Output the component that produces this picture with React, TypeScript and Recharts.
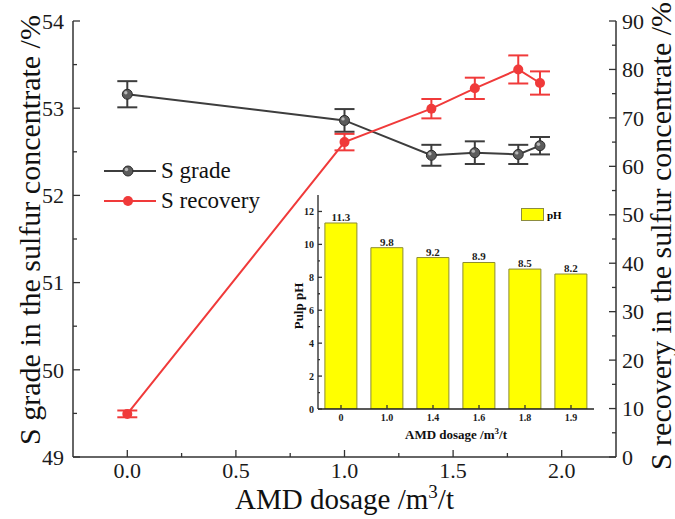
import React from 'react';
import {
  ComposedChart,
  BarChart,
  Bar,
  Line,
  XAxis,
  YAxis,
  ErrorBar,
  Legend,
  Label,
  LabelList,
} from 'recharts';

// AMD dosage (m3/t) and flotation results
const dosage = [0, 1.0, 1.4, 1.6, 1.8, 1.9];
const sGrade = [53.16, 52.86, 52.46, 52.49, 52.47, 52.57];
const sGradeErr = [0.15, 0.13, 0.12, 0.13, 0.11, 0.1];
const sRecovery = [8.9, 65.0, 71.9, 76.1, 80.0, 77.2];
const sRecoveryErr = [0.7, 1.7, 2.0, 2.2, 2.9, 2.4];

// inset: pulp pH
const phLabels = ['0', '1.0', '1.4', '1.6', '1.8', '1.9'];
const phValues = [11.3, 9.8, 9.2, 8.9, 8.5, 8.2];

const xTicks = [0, 0.25, 0.5, 0.75, 1, 1.25, 1.5, 1.75, 2];
const gradeTicks = [49, 49.5, 50, 50.5, 51, 51.5, 52, 52.5, 53, 53.5, 54];
const recoveryTicks = [0, 5, 10, 15, 20, 25, 30, 35, 40, 45, 50, 55, 60, 65, 70, 75, 80, 85, 90];
const phTicks = [0, 1, 2, 3, 4, 5, 6, 7, 8, 9, 10, 11, 12];

const FONT = "'Times New Roman', 'Liberation Serif', 'DejaVu Serif', serif";
const AXIS = '#333';
const GREY = '#3d3d3d';
const RED = '#f03a3a';

const rows = dosage.map((d, i) => ({
  dosage: d,
  grade: sGrade[i],
  gradeErr: sGradeErr[i],
  recovery: sRecovery[i],
  recoveryErr: sRecoveryErr[i],
}));

const phRows = phLabels.map((c, i) => ({ dosage: c, pH: phValues[i] }));

// ticks drawn inward, shorter for minor ones
type TickOpts = {
  side: 'bottom' | 'left' | 'right';
  margin: number;
  isMajor: (v: any) => boolean;
  fmt: (v: any) => string;
  size: number;
  bold?: boolean;
  major: number;
  minor: number;
};

const makeTick = (o: TickOpts) => (props: any) => {
  const { x, y, payload } = props;
  const v = payload.value;
  const major = o.isMajor(v);
  const len = major ? o.major : o.minor;
  const textProps = {
    fontFamily: FONT,
    fontSize: o.size,
    fontWeight: o.bold ? 700 : 400,
    fill: '#1a1a1a',
  };
  if (o.side === 'bottom') {
    const ay = y - o.margin;
    return (
      <g>
        <line x1={x} y1={ay} x2={x} y2={ay - len} stroke={AXIS} strokeWidth={1.3} />
        {major && (
          <text x={x} y={y} dy="0.71em" textAnchor="middle" {...textProps}>
            {o.fmt(v)}
          </text>
        )}
      </g>
    );
  }
  if (o.side === 'left') {
    const ax = x + o.margin;
    return (
      <g>
        <line x1={ax} y1={y} x2={ax + len} y2={y} stroke={AXIS} strokeWidth={1.3} />
        {major && (
          <text x={x} y={y} dy="0.35em" textAnchor="end" {...textProps}>
            {o.fmt(v)}
          </text>
        )}
      </g>
    );
  }
  const ax = x - o.margin;
  return (
    <g>
      <line x1={ax} y1={y} x2={ax - len} y2={y} stroke={AXIS} strokeWidth={1.3} />
      {major && (
        <text x={x} y={y} dy="0.35em" textAnchor="start" {...textProps}>
          {o.fmt(v)}
        </text>
      )}
    </g>
  );
};

const bottomTick = makeTick({
  side: 'bottom', margin: 5, size: 22, major: 7, minor: 4,
  isMajor: (v) => Math.abs(v * 2 - Math.round(v * 2)) < 1e-6,
  fmt: (v) => v.toFixed(1),
});
const leftTick = makeTick({
  side: 'left', margin: 9, size: 22, major: 7, minor: 4,
  isMajor: (v) => Number.isInteger(v),
  fmt: (v) => String(v),
});
const rightTick = makeTick({
  side: 'right', margin: 6, size: 22, major: 7, minor: 4,
  isMajor: (v) => v % 10 === 0,
  fmt: (v) => String(v),
});
const insetBottomTick = makeTick({
  side: 'bottom', margin: 5, size: 10, bold: true, major: 4, minor: 4,
  isMajor: () => true,
  fmt: (v) => String(v),
});
const insetLeftTick = makeTick({
  side: 'left', margin: 4, size: 10, bold: true, major: 4, minor: 2,
  isMajor: (v) => v % 2 === 0,
  fmt: (v) => String(v),
});

const GreyDot = ({ cx, cy }: any) => (
  <g>
    <circle cx={cx} cy={cy} r={5} fill="#5c5c5c" stroke="#2a2a2a" strokeWidth={1} />
    <circle cx={cx - 1.5} cy={cy - 1.5} r={1.7} fill="#b8b8b8" />
  </g>
);

const RedDot = ({ cx, cy }: any) => <circle cx={cx} cy={cy} r={5} fill={RED} />;

const MainLegend = ({ payload }: any) => (
  <div style={{ fontFamily: FONT, fontSize: 23, color: '#111' }}>
    {(payload || []).map((it: any) => (
      <div key={it.value} style={{ display: 'flex', alignItems: 'center', height: 30 }}>
        <svg width={52} height={30}>
          <line x1={0} y1={15} x2={52} y2={15} stroke={it.color} strokeWidth={2} />
          {it.value === 'S grade' ? <GreyDot cx={24} cy={15} /> : <RedDot cx={24} cy={15} />}
        </svg>
        <span style={{ marginLeft: 5 }}>{it.value}</span>
      </div>
    ))}
  </div>
);

const InsetLegend = () => (
  <div style={{ display: 'flex', alignItems: 'center', fontFamily: FONT, fontSize: 11, fontWeight: 700 }}>
    <svg width={23} height={13}>
      <rect x={0.5} y={0.5} width={22} height={12} fill="#ffff00" stroke="#8c8c40" />
    </svg>
    <span style={{ marginLeft: 3 }}>pH</span>
  </div>
);

const frame = { stroke: AXIS, strokeWidth: 1.5 };
const titleProps = { fontFamily: FONT, fontSize: 30, fill: '#111' };
const insetTitleProps = { fontFamily: FONT, fontSize: 13, fontWeight: 700, fill: '#111' };

export default function App() {
  return (
    <div style={{ position: 'absolute', left: 0, top: 0, width: 675, height: 519, background: '#fff', fontFamily: FONT }}>
      <ComposedChart width={675} height={519} data={rows} margin={{ top: 21, right: 0, bottom: 0, left: 0 }}>
        <XAxis
          xAxisId="b"
          dataKey="dosage"
          type="number"
          domain={[-0.25, 2.25]}
          ticks={xTicks}
          interval={0}
          allowDataOverflow
          height={62}
          tickSize={0}
          tickMargin={5}
          tickLine={false}
          tick={bottomTick}
          axisLine={frame}
        >
          <Label
            content={({ viewBox }: any) => (
              <text
                x={viewBox.x + viewBox.width / 2}
                y={viewBox.y + 52}
                textAnchor="middle"
                {...titleProps}
                fontSize={29}
              >
                AMD dosage /m
                <tspan dy={-11} fontSize={19}>3</tspan>
                <tspan dy={11}>/t</tspan>
              </text>
            )}
          />
        </XAxis>
        <XAxis
          xAxisId="t"
          orientation="top"
          dataKey="dosage"
          type="number"
          domain={[-0.25, 2.25]}
          allowDataOverflow
          height={0}
          tick={false}
          tickLine={false}
          axisLine={frame}
        />
        <YAxis
          yAxisId="g"
          domain={[49, 54]}
          ticks={gradeTicks}
          interval={0}
          allowDataOverflow
          width={73}
          tickSize={0}
          tickMargin={9}
          tickLine={false}
          tick={leftTick}
          axisLine={frame}
        >
          <Label
            content={({ viewBox }: any) => {
              const cx = viewBox.x + 29;
              const cy = viewBox.y + viewBox.height / 2 - 9;
              return (
                <text
                  x={cx}
                  y={cy}
                  transform={`rotate(-90, ${cx}, ${cy})`}
                  textAnchor="middle"
                  dominantBaseline="central"
                  {...titleProps}
                >
                  S grade in the sulfur concentrate /%
                </text>
              );
            }}
          />
        </YAxis>
        <YAxis
          yAxisId="r"
          orientation="right"
          domain={[0, 90]}
          ticks={recoveryTicks}
          interval={0}
          allowDataOverflow
          width={59}
          tickSize={0}
          tickMargin={6}
          tickLine={false}
          tick={rightTick}
          axisLine={frame}
        >
          <Label
            content={({ viewBox }: any) => {
              const cx = viewBox.x + 44;
              const cy = viewBox.y + viewBox.height / 2 - 3;
              return (
                <text
                  x={cx}
                  y={cy}
                  transform={`rotate(-90, ${cx}, ${cy})`}
                  textAnchor="middle"
                  dominantBaseline="central"
                  {...titleProps}
                >
                  S recovery in the sulfur concentrate /%
                </text>
              );
            }}
          />
        </YAxis>
        <Line
          xAxisId="b"
          yAxisId="g"
          dataKey="grade"
          name="S grade"
          stroke={GREY}
          strokeWidth={2}
          dot={(p: any) => <GreyDot key={`g${p.index}`} {...p} />}
          isAnimationActive={false}
        >
          <ErrorBar dataKey="gradeErr" width={10} stroke={GREY} strokeWidth={2} isAnimationActive={false} />
        </Line>
        <Line
          xAxisId="b"
          yAxisId="r"
          dataKey="recovery"
          name="S recovery"
          stroke={RED}
          strokeWidth={2}
          dot={(p: any) => <RedDot key={`r${p.index}`} {...p} />}
          isAnimationActive={false}
        >
          <ErrorBar dataKey="recoveryErr" width={10} stroke={RED} strokeWidth={2} isAnimationActive={false} />
        </Line>
        <Legend
          layout="vertical"
          align="center"
          verticalAlign="middle"
          content={MainLegend}
          wrapperStyle={{ left: 104, top: 156, width: 'auto' }}
        />
      </ComposedChart>

      <div style={{ position: 'absolute', left: 260, top: 185 }}>
        <BarChart
          width={345}
          height={265}
          data={phRows}
          margin={{ top: 10, right: 11, bottom: 0, left: 0 }}
          barCategoryGap="15%"
        >
          <XAxis
            dataKey="dosage"
            interval={0}
            height={41}
            tickSize={0}
            tickMargin={5}
            tickLine={false}
            tick={insetBottomTick}
            axisLine={{ stroke: '#222', strokeWidth: 1.3 }}
          >
            <Label
              content={({ viewBox }: any) => (
                <text
                  x={viewBox.x + viewBox.width / 2}
                  y={viewBox.y + 30}
                  textAnchor="middle"
                  {...insetTitleProps}
                >
                  AMD dosage /m
                  <tspan dy={-5} fontSize={9}>3</tspan>
                  <tspan dy={5}>/t</tspan>
                </text>
              )}
            />
          </XAxis>
          <XAxis
            xAxisId="top"
            dataKey="dosage"
            orientation="top"
            height={0}
            tick={false}
            tickLine={false}
            axisLine={{ stroke: '#222', strokeWidth: 1.3 }}
          />
          <YAxis
            domain={[0, 13]}
            ticks={phTicks}
            interval={0}
            allowDataOverflow
            width={58}
            tickSize={0}
            tickMargin={4}
            tickLine={false}
            tick={insetLeftTick}
            axisLine={{ stroke: '#222', strokeWidth: 1.3 }}
          >
            <Label
              content={({ viewBox }: any) => {
                const cx = viewBox.x + 38;
                const cy = viewBox.y + viewBox.height / 2 + 4;
                return (
                  <text
                    x={cx}
                    y={cy}
                    transform={`rotate(-90, ${cx}, ${cy})`}
                    textAnchor="middle"
                    dominantBaseline="central"
                    {...insetTitleProps}
                  >
                    Pulp pH
                  </text>
                );
              }}
            />
          </YAxis>
          <YAxis
            yAxisId="rt"
            orientation="right"
            domain={[0, 13]}
            width={0}
            tick={false}
            tickLine={false}
            axisLine={{ stroke: '#222', strokeWidth: 1.3 }}
          />
          <Bar dataKey="pH" fill="#ffff00" stroke="#8c8c30" strokeWidth={1} isAnimationActive={false}>
            <LabelList
              dataKey="pH"
              position="top"
              offset={2}
              formatter={(v: any) => Number(v).toFixed(1)}
              fontFamily={FONT}
              fontSize={11}
              fontWeight={700}
              fill="#222"
            />
          </Bar>
          <Legend
            layout="vertical"
            align="center"
            verticalAlign="middle"
            content={InsetLegend}
            wrapperStyle={{ left: 261, top: 23, width: 'auto' }}
          />
        </BarChart>
      </div>
    </div>
  );
}
